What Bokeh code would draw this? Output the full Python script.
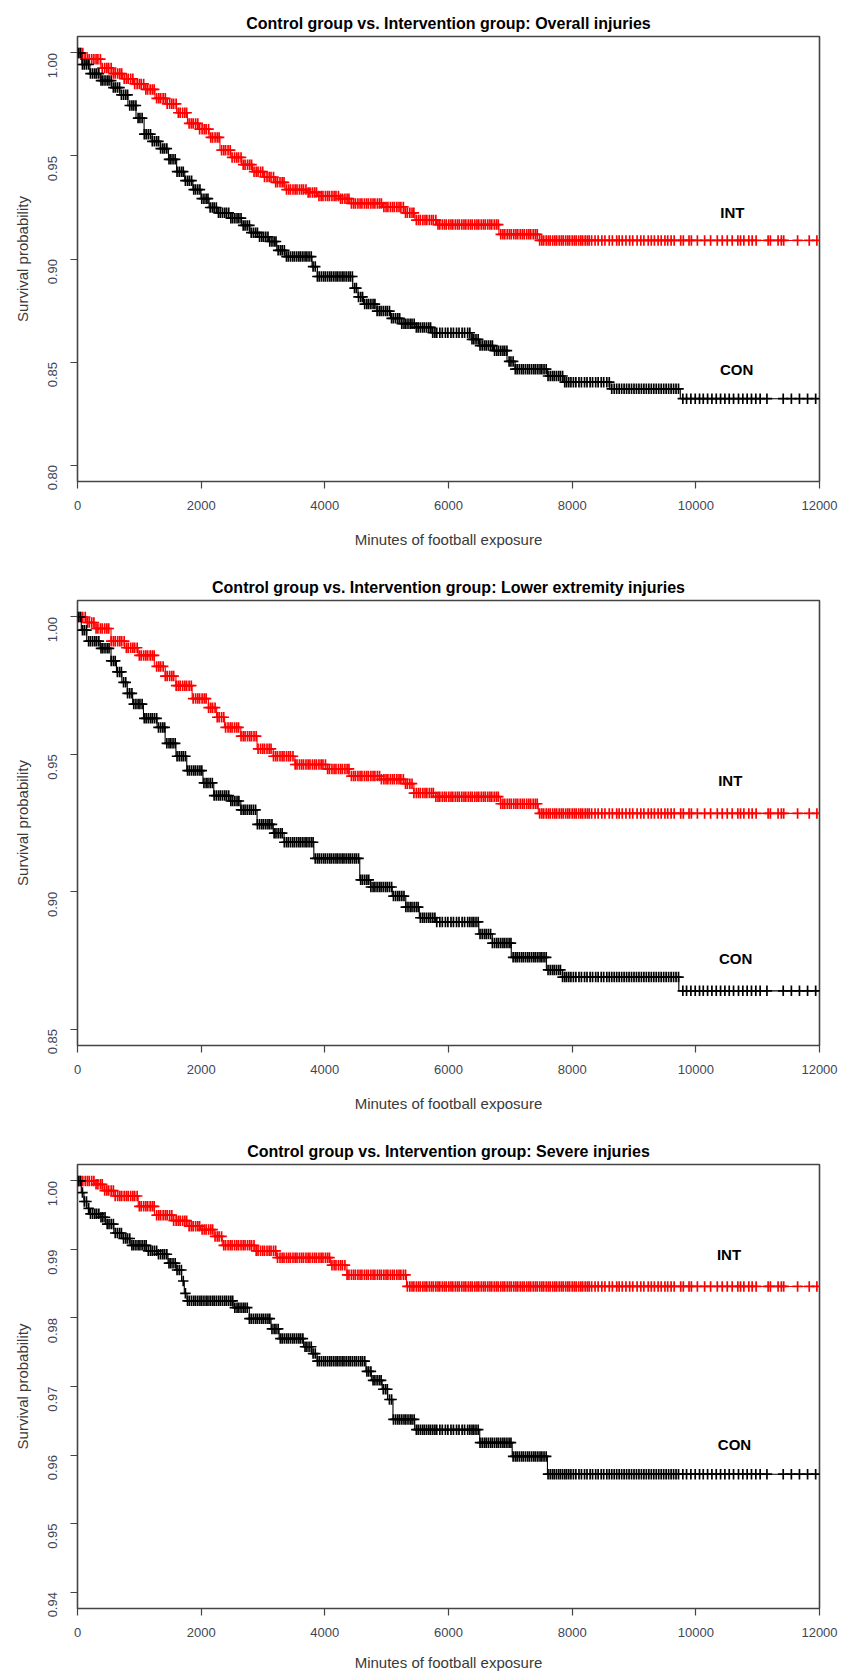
import math
import numpy as np
from bokeh.plotting import figure
from bokeh.layouts import column
from bokeh.models import Range1d, FixedTicker, NumeralTickFormatter, ColumnDataSource
from bokeh.core.properties import value
from bokeh.embed import file_html
from bokeh.resources import INLINE

# ---------------- data ----------------
titles = [
    "Control group vs. Intervention group: Overall injuries",
    "Control group vs. Intervention group: Lower extremity injuries",
    "Control group vs. Intervention group: Severe injuries",
]
x_ticks = [0, 2000, 4000, 6000, 8000, 10000, 12000]
y_ticks_1 = [0.80, 0.85, 0.90, 0.95, 1.00]
y_ticks_2 = [0.85, 0.90, 0.95, 1.00]
y_ticks_3 = [0.94, 0.95, 0.96, 0.97, 0.98, 0.99, 1.00]

# Panel 1 (overall injuries) step curves: time, survival
t1_int = [0, 120, 377, 552, 727, 902, 1077, 1253, 1428, 1603, 1778, 1953, 2128, 2304, 2479, 2654, 2829, 3004,
          3180, 3355, 3705, 3880, 4231, 4406, 4931, 5282, 5457, 5807, 6815, 7471]
s1_int = [1.0, 0.997, 0.9927, 0.990, 0.9875, 0.985, 0.9823, 0.978, 0.9753, 0.971, 0.9658, 0.963, 0.959, 0.9528,
          0.9493, 0.9458, 0.9424, 0.9398, 0.9372, 0.9337, 0.9323, 0.9306, 0.9293, 0.927, 0.9253, 0.9224, 0.9189,
          0.9167, 0.912, 0.909]
t1_con = [0, 70, 201, 377, 552, 683, 815, 946, 1077, 1209, 1340, 1472, 1603, 1734, 1866, 1997, 2128, 2260, 2479,
          2654, 2785, 2917, 3092, 3223, 3355, 3793, 3880, 4450, 4537, 4625, 4844, 5063, 5238, 5457, 5720, 6380,
          6500, 6727, 6946, 7077, 7603, 7865, 8610, 9749]
s1_con = [1.0, 0.9944, 0.990, 0.9866, 0.9832, 0.9797, 0.9745, 0.9684, 0.9606, 0.9571, 0.9536, 0.9484, 0.9424,
          0.938, 0.9337, 0.9293, 0.925, 0.9224, 0.9198, 0.9163, 0.9128, 0.9108, 0.9085, 0.9042, 0.9012, 0.8963,
          0.8915, 0.8859, 0.8816, 0.8781, 0.8747, 0.8712, 0.8686, 0.8668, 0.8642, 0.861, 0.858, 0.8555, 0.8503,
          0.8465, 0.8432, 0.8402, 0.8370, 0.8322]

# Panel 2 (lower extremity injuries)
t2_int = [0, 150, 280, 542, 760, 980, 1242, 1420, 1592, 1854, 2117, 2250, 2379, 2641, 2904, 3166, 3516, 4041,
          4391, 4915, 5300, 5440, 5790, 6839, 7452]
s2_int = [1.0, 0.998, 0.9958, 0.9912, 0.9888, 0.986, 0.982, 0.9785, 0.975, 0.9703, 0.967, 0.9635, 0.9598,
          0.9566, 0.952, 0.9493, 0.9463, 0.9447, 0.9421, 0.9409, 0.9393, 0.9359, 0.9346, 0.932, 0.9285]
t2_con = [0, 61, 149, 367, 542, 630, 717, 805, 892, 1067, 1286, 1417, 1592, 1767, 2029, 2204, 2466, 2641, 2904,
          3166, 3341, 3822, 4565, 4740, 5090, 5309, 5528, 5790, 6490, 6709, 7015, 7583, 7845, 9725]
s2_con = [1.0, 0.9952, 0.9912, 0.9886, 0.984, 0.980, 0.9762, 0.9722, 0.9683, 0.9631, 0.9598, 0.954, 0.9493,
          0.9441, 0.9396, 0.935, 0.933, 0.9298, 0.9245, 0.9213, 0.918, 0.9121, 0.9043, 0.9017, 0.8984, 0.8944,
          0.8905, 0.889, 0.8846, 0.8813, 0.8761, 0.8715, 0.8689, 0.8639]

# Panel 3 (severe injuries)
t3_int = [0, 281, 412, 587, 982, 1245, 1552, 1771, 1990, 2209, 2341, 2867, 3217, 4094, 4357, 5321]
s3_int = [1.0, 0.9995, 0.9986, 0.9978, 0.9963, 0.995, 0.9942, 0.9934, 0.9929, 0.9919, 0.9906, 0.9898, 0.9888,
          0.9877, 0.9863, 0.9846]
t3_con = [0, 61, 105, 149, 193, 368, 456, 587, 719, 850, 1113, 1289, 1464, 1595, 1683, 1727, 1771, 2516, 2779,
          3130, 3261, 3655, 3787, 3875, 4664, 4752, 4927, 5015, 5102, 5453, 6505, 7030, 7600]
s3_con = [1.0, 0.9983, 0.997, 0.996, 0.9952, 0.9947, 0.9937, 0.9924, 0.9916, 0.9906, 0.9898, 0.9893, 0.988,
          0.987, 0.9854, 0.9836, 0.9825, 0.9815, 0.9799, 0.9784, 0.977, 0.9758, 0.9748, 0.9737, 0.9722, 0.9709,
          0.9696, 0.9681, 0.9652, 0.9637, 0.9618, 0.9598, 0.9572]

cens_int = [20, 55, 85, 125, 160, 190, 230, 265, 300, 330, 370, 400, 440, 475, 505, 545, 580, 610, 650, 685,
            715, 755, 790, 820, 860, 895, 925, 965, 1000, 1030, 1070, 1105, 1135, 1175, 1210, 1240, 1280, 1315,
            1345, 1385, 1420, 1450, 1490, 1525, 1555, 1595, 1630, 1660, 1700, 1735, 1765, 1805, 1840, 1870, 1910,
            1945, 1975, 2015, 2050, 2080, 2120, 2155, 2185, 2225, 2260, 2290, 2330, 2365, 2395, 2435, 2470, 2500,
            2540, 2575, 2605, 2645, 2680, 2710, 2750, 2785, 2815, 2855, 2890, 2920, 2960, 2995, 3025, 3065, 3100,
            3130, 3170, 3205, 3235, 3275, 3310, 3340, 3380, 3415, 3445, 3485, 3520, 3550, 3590, 3625, 3655, 3695,
            3730, 3760, 3800, 3835, 3865, 3905, 3940, 3970, 4010, 4045, 4075, 4115, 4150, 4180, 4220, 4255, 4285,
            4325, 4360, 4390, 4430, 4465, 4495, 4535, 4570, 4600, 4640, 4675, 4705, 4745, 4780, 4810, 4850, 4885,
            4915, 4955, 4990, 5020, 5060, 5095, 5125, 5165, 5200, 5230, 5270, 5305, 5335, 5375, 5410, 5440, 5480,
            5515, 5545, 5585, 5620, 5650, 5690, 5725, 5755, 5795, 5830, 5860, 5900, 5935, 5965, 6005, 6040, 6070,
            6110, 6145, 6175, 6215, 6250, 6280, 6320, 6355, 6385, 6425, 6460, 6490, 6530, 6565, 6595, 6635, 6670,
            6700, 6740, 6775, 6805, 6845, 6880, 6910, 6950, 6985, 7015, 7055, 7090, 7120, 7160, 7195, 7225, 7265,
            7300, 7330, 7370, 7405, 7435, 7475, 7510, 7540, 7580, 7615, 7645, 7685, 7720, 7750, 7790, 7825, 7855,
            7895, 7930, 7960, 8000, 8035, 8065, 8105, 8140, 8170, 8210, 8245, 8275, 8315, 8370, 8420, 8480, 8530,
            8600, 8650, 8720, 8760, 8810, 8870, 8930, 8980, 9050, 9110, 9160, 9230, 9280, 9330, 9390, 9440, 9500,
            9545, 9600, 9650, 9755, 9798, 9890, 9928, 10025, 10142, 10239, 10347, 10427, 10508, 10588, 10679,
            10723, 10777, 10857, 10911, 10975, 11169, 11206, 11330, 11383, 11421, 11646, 11834, 11958]
cens_con = [15, 45, 80, 110, 145, 180, 210, 245, 280, 310, 345, 380, 410, 445, 480, 510, 545, 580, 610, 645, 680,
            710, 745, 780, 810, 845, 880, 910, 945, 980, 1010, 1045, 1080, 1110, 1145, 1180, 1210, 1245, 1280,
            1310, 1345, 1380, 1410, 1445, 1480, 1510, 1545, 1580, 1610, 1645, 1680, 1710, 1745, 1780, 1810, 1845,
            1880, 1910, 1945, 1980, 2010, 2045, 2080, 2110, 2145, 2180, 2210, 2245, 2280, 2310, 2345, 2380, 2410,
            2445, 2480, 2510, 2545, 2580, 2610, 2645, 2680, 2710, 2745, 2780, 2810, 2845, 2880, 2910, 2945, 2980,
            3010, 3045, 3080, 3110, 3145, 3180, 3210, 3245, 3280, 3310, 3345, 3380, 3410, 3445, 3480, 3510, 3545,
            3580, 3610, 3645, 3680, 3710, 3745, 3780, 3810, 3845, 3880, 3910, 3945, 3980, 4010, 4045, 4080, 4110,
            4145, 4180, 4210, 4245, 4280, 4310, 4345, 4380, 4410, 4445, 4480, 4510, 4545, 4580, 4610, 4645, 4680,
            4710, 4745, 4780, 4810, 4845, 4880, 4910, 4945, 4980, 5010, 5045, 5080, 5110, 5145, 5180, 5210, 5245,
            5280, 5310, 5345, 5380, 5410, 5445, 5480, 5510, 5545, 5580, 5610, 5645, 5680, 5710, 5745, 5780, 5810,
            5860, 5900, 5950, 5990, 6040, 6080, 6130, 6170, 6220, 6260, 6310, 6345, 6380, 6410, 6445, 6480, 6510,
            6545, 6580, 6610, 6645, 6680, 6710, 6745, 6780, 6810, 6845, 6880, 6910, 6945, 6980, 7010, 7045, 7080,
            7110, 7145, 7180, 7210, 7245, 7280, 7310, 7345, 7380, 7410, 7445, 7480, 7510, 7545, 7580, 7610, 7645,
            7680, 7710, 7745, 7780, 7810, 7845, 7880, 7910, 7945, 7980, 8020, 8060, 8110, 8150, 8200, 8240, 8290,
            8330, 8380, 8420, 8470, 8510, 8560, 8600, 8640, 8680, 8720, 8760, 8800, 8840, 8880, 8920, 8960, 9000,
            9040, 9080, 9120, 9160, 9200, 9240, 9280, 9320, 9360, 9400, 9440, 9480, 9520, 9560, 9600, 9640, 9680,
            9720, 9790, 9850, 9920, 9990, 10060, 10120, 10190, 10260, 10330, 10400, 10470, 10540, 10610, 10690,
            10760, 10830, 10900, 10970, 11040, 11150, 11413, 11545, 11676, 11807, 11938]

# group label positions (time, survival)
lab1 = {"INT": (10590, 0.9228), "CON": (10660, 0.8465)}
lab2 = {"INT": (10557, 0.9406), "CON": (10644, 0.8755)}
lab3 = {"INT": (10537, 0.9893), "CON": (10625, 0.9615)}

X_MAX = 12000
FONT = "Liberation Sans"
FRAME = "#444444"
TICKC = "#3e4657"
RED = "#ff0000"
BLACK = "#000000"


def surv_at(times, surv, t):
    idx = np.searchsorted(np.asarray(times), np.asarray(t), side="right") - 1
    return np.asarray(surv)[idx]


def make_panel(title, y_range, y_ticks, curves, labels, height, borders, xlab_standoff):
    top, left, right, bottom = borders
    p = figure(width=844, height=height, x_range=Range1d(0, X_MAX), y_range=Range1d(*y_range),
               output_backend="svg", toolbar_location=None,
               min_border_top=top, min_border_left=left, min_border_right=right, min_border_bottom=bottom)
    p.title.text = title
    p.title.align = "center"
    p.title.text_font = FONT
    p.title.text_font_size = "16px"
    p.title.text_font_style = "bold"
    p.title.text_color = "#000000"
    p.title.standoff = 10
    p.xgrid.visible = False
    p.ygrid.visible = False
    p.outline_line_color = FRAME
    p.outline_line_width = 1.6
    p.outline_line_alpha = 1.0

    p.xaxis.ticker = FixedTicker(ticks=x_ticks)
    p.xaxis.formatter = NumeralTickFormatter(format="0")
    p.yaxis.ticker = FixedTicker(ticks=y_ticks)
    p.yaxis.formatter = NumeralTickFormatter(format="0.00")
    p.yaxis.major_label_orientation = math.pi / 2
    for ax in (p.xaxis, p.yaxis):
        ax.axis_line_color = None
        ax.major_tick_line_color = FRAME
        ax.major_tick_line_width = 1.2
        ax.major_tick_out = 7
        ax.major_tick_in = 0
        ax.minor_tick_line_color = None
        ax.major_label_text_font = FONT
        ax.major_label_text_font_size = "13px"
        ax.major_label_text_color = TICKC
        ax.axis_label_text_font = FONT
        ax.axis_label_text_font_size = "15px"
        ax.axis_label_text_font_style = "normal"
        ax.axis_label_text_color = "#3a3a3a"
    p.xaxis.axis_label = "Minutes of football exposure"
    p.yaxis.axis_label = "Survival probability"
    p.xaxis.major_label_standoff = 12
    p.yaxis.major_label_standoff = 18
    p.xaxis.axis_label_standoff = xlab_standoff
    p.yaxis.axis_label_standoff = 10

    for times, surv, color in curves:
        tt = list(times) + [X_MAX]
        ss = list(surv) + [surv[-1]]
        p.step(x=tt, y=ss, mode="after", line_color=color, line_width=1.1)
        cens = cens_int if color == RED else cens_con
        cy = surv_at(times, surv, cens)
        src = ColumnDataSource(dict(x=cens, y=cy))
        p.scatter(x="x", y="y", source=src, marker="cross", size=10.5, line_color=color, line_width=1.7)

    names = list(labels.keys())
    p.text(x=[labels[n][0] for n in names], y=[labels[n][1] for n in names], text=names,
           text_font=value(FONT), text_font_style="bold", text_font_size="15px",
           text_align="center", text_baseline="middle", text_color="#000000")
    return p


p1 = make_panel(titles[0], (0.792, 1.008), y_ticks_1,
                [(t1_int, s1_int, RED), (t1_con, s1_con, BLACK)], lab1,
                560, (36, 74, 25, 79), 18)
p2 = make_panel(titles[1], (0.844, 1.006), y_ticks_2,
                [(t2_int, s2_int, RED), (t2_con, s2_con, BLACK)], lab2,
                560, (40, 75, 23, 75), 18)
p3 = make_panel(titles[2], (0.9376, 1.0024), y_ticks_3,
                [(t3_int, s3_int, RED), (t3_con, s3_con, BLACK)], lab3,
                553, (44, 77, 22, 65), 14)

layout = column(p1, p2, p3, spacing=0)
open("out.html", "w").write(file_html(layout, INLINE))
